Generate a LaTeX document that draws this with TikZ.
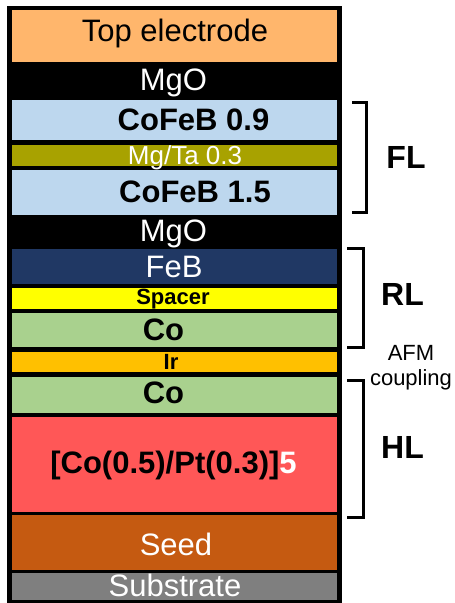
\documentclass[tikz,border=0pt]{standalone}
\usepackage{fontspec}
\setmainfont{Liberation Sans}
\usepackage{xcolor}
\usetikzlibrary{positioning}
\definecolor{electrode}{HTML}{FFB66C}
\definecolor{cofeb}{HTML}{BDD7EE}
\definecolor{mgta}{HTML}{A8A200}
\definecolor{feb}{HTML}{203864}
\definecolor{spacer}{HTML}{FFFF00}
\definecolor{cobalt}{HTML}{A9D18E}
\definecolor{iridium}{HTML}{FFC000}
\definecolor{multilayer}{HTML}{FF5757}
\definecolor{seed}{HTML}{C55A11}
\definecolor{substrate}{HTML}{7F7F7F}

\begin{document}
\begin{tikzpicture}[
  x=1pt,y=-1pt,
  % layers hang from their top edge, measured in pixels downwards
  layer/.style={inner sep=0pt,outer sep=0pt,minimum width=325.5pt,anchor=north},
  txt/.style={inner sep=0pt,anchor=base,font=\fontsize{31}{36}\selectfont},
  boldtxt/.style={txt,font=\fontsize{31}{36}\selectfont\bfseries},
  smalltxt/.style={txt,font=\fontsize{26}{30}\selectfont},
  thintxt/.style={txt,font=\fontsize{22}{26}\selectfont\bfseries},
  tagtxt/.style={txt,font=\fontsize{32}{38}\selectfont\bfseries},
  notetxt/.style={txt,align=center,font=\fontsize{22}{25}\selectfont},
  bracket/.style={line width=3pt,draw=black}
]
  \useasboundingbox (0,0) rectangle (455,603);
  \fill[black] (7,6) rectangle (342,604);

  \node[layer,fill=electrode,minimum height=52pt] (top) at (174.35,10) {};
  \node[layer,fill=black,minimum height=38pt] (mgoA) at (174.35,62) {};
  \node[layer,fill=cofeb,minimum height=40pt] (cfbA) at (174.35,100) {};
  \node[layer,fill=mgta,minimum height=21pt] (mgta) at (174.35,145) {};
  \node[layer,fill=cofeb,minimum height=45pt] (cfbB) at (174.35,170) {};
  \node[layer,fill=black,minimum height=34pt] (mgoB) at (174.35,215) {};
  \node[layer,fill=feb,minimum height=35pt] (feb) at (174.35,249) {};
  \node[layer,fill=spacer,minimum height=21pt] (spacer) at (174.35,288) {};
  \node[layer,fill=cobalt,minimum height=34pt] (coA) at (174.35,313) {};
  \node[layer,fill=iridium,minimum height=20pt] (ir) at (174.35,352) {};
  \node[layer,fill=cobalt,minimum height=36pt] (coB) at (174.35,377) {};
  \node[layer,fill=multilayer,minimum height=95pt] (copt) at (174.35,417) {};
  \node[layer,fill=seed,minimum height=55pt] (seed) at (174.35,515) {};
  \node[layer,fill=substrate,minimum height=27pt] (sub) at (174.35,573) {};

  \node[txt] (topT) at (175,41) {Top electrode};
  \node[txt,text=white] (mgoAT) at (173.5,90) {MgO};
  \node[boldtxt] (cfbAT) at (193.5,130) {CoFeB 0.9};
  \node[smalltxt,text=white] (mgtaT) at (185,164) {Mg/Ta 0.3};
  \node[boldtxt] (cfbBT) at (195,202.5) {CoFeB 1.5};
  \node[txt,text=white] (mgoBT) at (173.5,241.5) {MgO};
  \node[txt,text=white] (febT) at (174,277.3) {FeB};
  \node[thintxt] (spacerT) at (173,304.5) {Spacer};
  \node[boldtxt] (coAT) at (163.5,340) {Co};
  \node[thintxt] (irT) at (171,369.5) {Ir};
  \node[boldtxt] (coBT) at (163.5,403.3) {Co};
  \node[boldtxt] (coptT) at (173.5,473.3) {[Co(0.5)/Pt(0.3)]\textcolor{white}{5}};
  \node[txt,text=white] (seedT) at (176,555.7) {Seed};
  \node[txt,text=white] (subT) at (175,596.7) {Substrate};

  \draw[bracket] (352,102) -| (366,212) -- (352,212);
  \draw[bracket] (347,248) -| (363,347) -- (347,347);
  \draw[bracket] (347,380) -| (363,517) -- (347,517);

  \node[tagtxt] (fl) at (406,168) {FL};
  \node[tagtxt] (rl) at (402.5,305) {RL};
  \node[tagtxt] (hl) at (402.5,458) {HL};
  \node[notetxt] (afm) at (411,385) {AFM\\coupling};
\end{tikzpicture}
\end{document}
